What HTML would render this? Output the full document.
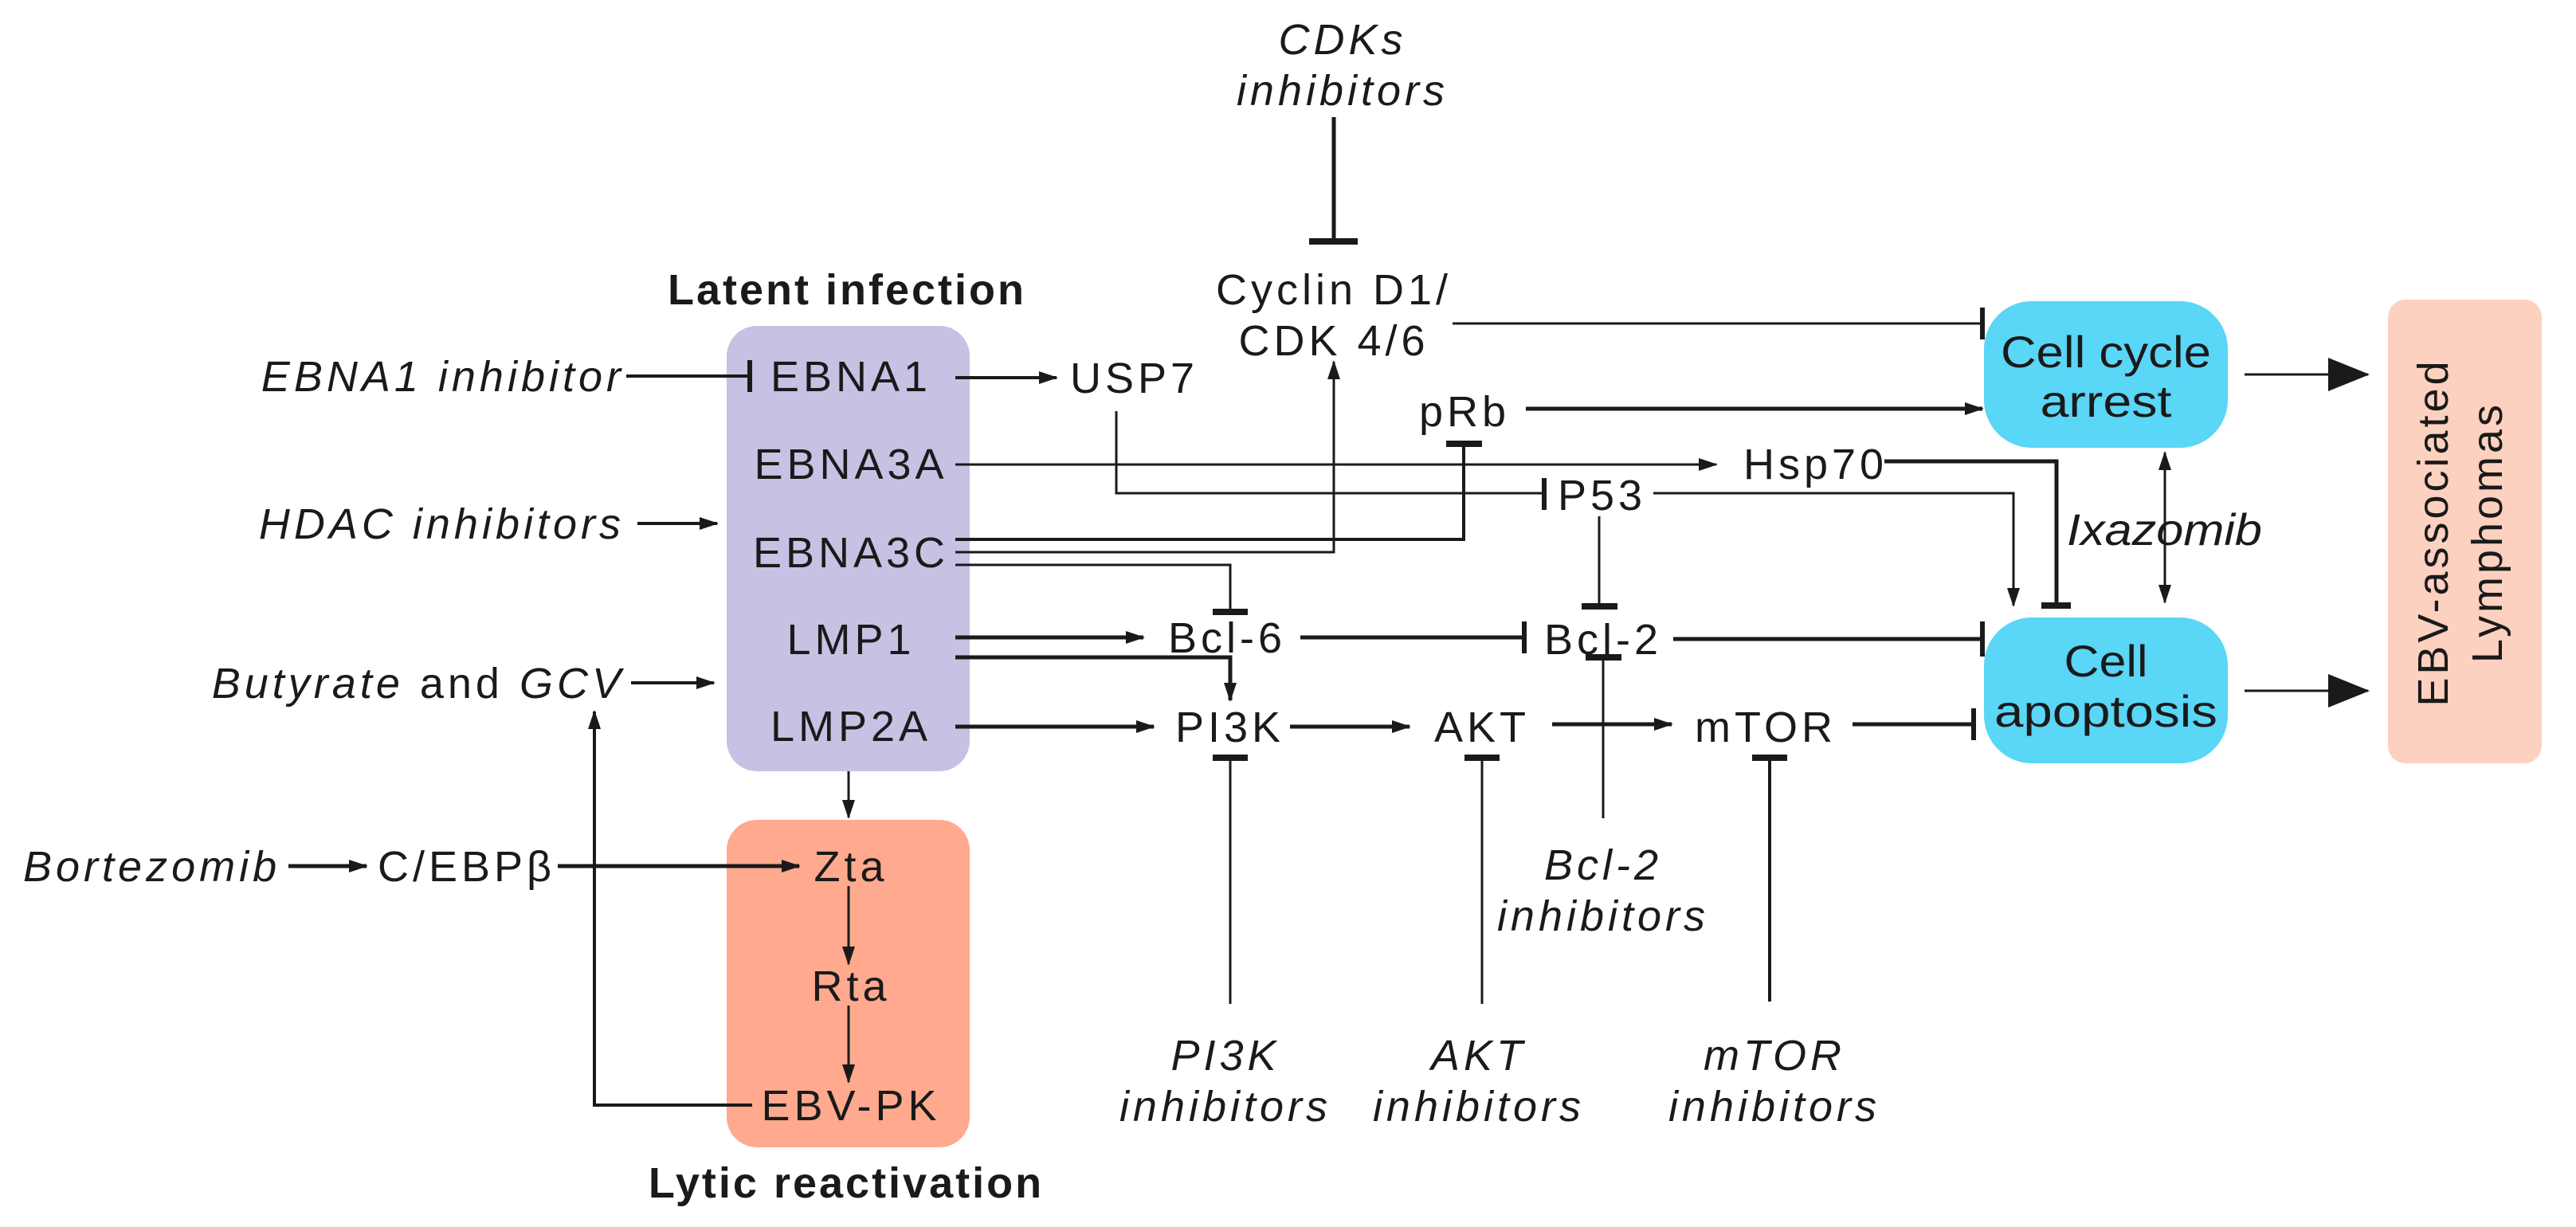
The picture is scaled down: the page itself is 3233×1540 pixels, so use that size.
<!DOCTYPE html>
<html><head><meta charset="utf-8"><style>
html,body{margin:0;padding:0;background:#fff;overflow:hidden;}
svg{display:block;}
text{font-family:"Liberation Sans",Arial,sans-serif;fill:#1a1a1a;}
.t{font-size:54px;letter-spacing:5px;}
.i{font-size:54px;font-style:italic;letter-spacing:5px;}
.b{font-size:54px;font-weight:bold;letter-spacing:3px;}
.n{font-size:56px;}
</style></head><body>
<svg width="3233" height="1540" viewBox="0 0 3233 1540" xmlns="http://www.w3.org/2000/svg">
<defs>
<marker id="a" markerUnits="userSpaceOnUse" markerWidth="24" markerHeight="16" refX="22" refY="8" orient="auto-start-reverse" viewBox="0 0 24 16"><path d="M0,0 L24,8 L0,16 z" fill="#1a1a1a"/></marker>
<marker id="A" markerUnits="userSpaceOnUse" markerWidth="52" markerHeight="42" refX="50" refY="21" orient="auto" viewBox="0 0 52 42"><path d="M0,0 L52,21 L0,42 z" fill="#1a1a1a"/></marker>
</defs>
<rect x="912" y="409" width="305" height="559" rx="38" fill="#C6C2E3"/>
<rect x="912" y="1029" width="305" height="411" rx="38" fill="#FFA98E"/>
<rect x="2490" y="378" width="306" height="184" rx="60" fill="#5AD6F6"/>
<rect x="2490" y="775" width="306" height="183" rx="60" fill="#5AD6F6"/>
<rect x="2997" y="376" width="193" height="582" rx="22" fill="#FDD1BF"/>

<text class="b" x="1063" y="382" text-anchor="middle">Latent infection</text>
<text class="b" x="1062" y="1503" text-anchor="middle" letter-spacing="4">Lytic reactivation</text>

<text class="t" x="1068" y="491" text-anchor="middle">EBNA1</text>
<text class="t" x="1068" y="601" text-anchor="middle">EBNA3A</text>
<text class="t" x="1068" y="712" text-anchor="middle">EBNA3C</text>
<text class="t" x="1068" y="821" text-anchor="middle">LMP1</text>
<text class="t" x="1068" y="930" text-anchor="middle">LMP2A</text>
<text class="t" x="1068" y="1106" text-anchor="middle">Zta</text>
<text class="t" x="1068" y="1256" text-anchor="middle">Rta</text>
<text class="t" x="1068" y="1406" text-anchor="middle">EBV-PK</text>

<text class="i" x="784" y="491" text-anchor="end">EBNA1 inhibitor</text>
<text class="i" x="784" y="676" text-anchor="end">HDAC inhibitors</text>
<text x="784" y="876" text-anchor="end" class="t"><tspan font-style="italic">Butyrate</tspan> and <tspan font-style="italic">GCV</tspan></text>
<text class="i" x="29" y="1106">Bortezomib</text>
<text class="t" x="474" y="1106">C/EBPβ</text>

<text class="i" x="1685" y="68" text-anchor="middle">CDKs</text>
<text class="i" x="1685" y="132" text-anchor="middle">inhibitors</text>
<text class="t" x="1674" y="382" text-anchor="middle">Cyclin D1/</text>
<text class="t" x="1674" y="446" text-anchor="middle">CDK 4/6</text>
<text class="t" x="1343" y="493">USP7</text>
<text class="t" x="1781" y="535">pRb</text>
<text class="t" x="2188" y="601">Hsp70</text>
<text class="t" x="1955" y="640">P53</text>
<text class="t" x="1466" y="819">Bcl-6</text>
<text class="t" x="1938" y="821">Bcl-2</text>
<text class="t" x="1475" y="931">PI3K</text>
<text class="t" x="1800" y="931">AKT</text>
<text class="t" x="2127" y="931">mTOR</text>
<text class="i" x="2012" y="1104" text-anchor="middle">Bcl-2</text>
<text class="i" x="2012" y="1168" text-anchor="middle">inhibitors</text>
<text class="i" x="1538" y="1343" text-anchor="middle">PI3K</text>
<text class="i" x="1538" y="1407" text-anchor="middle">inhibitors</text>
<text class="i" x="1856" y="1343" text-anchor="middle">AKT</text>
<text class="i" x="1856" y="1407" text-anchor="middle">inhibitors</text>
<text class="i" x="2227" y="1343" text-anchor="middle">mTOR</text>
<text class="i" x="2227" y="1407" text-anchor="middle">inhibitors</text>

<text class="n" x="2643" y="461" text-anchor="middle" textLength="264" lengthAdjust="spacingAndGlyphs">Cell cycle</text>
<text class="n" x="2643" y="523" text-anchor="middle" textLength="165" lengthAdjust="spacingAndGlyphs">arrest</text>
<text class="n" x="2643" y="849" text-anchor="middle" textLength="105" lengthAdjust="spacingAndGlyphs">Cell</text>
<text class="n" x="2643" y="912" text-anchor="middle" textLength="280" lengthAdjust="spacingAndGlyphs">apoptosis</text>
<text class="n" font-style="italic" x="2594" y="684" textLength="245" lengthAdjust="spacingAndGlyphs">Ixazomib</text>
<g transform="translate(3088,668) rotate(-90)">
<text x="0" y="-16" text-anchor="middle" font-size="54" letter-spacing="4">EBV-associated</text>
<text x="0" y="52" text-anchor="middle" font-size="54" letter-spacing="4">Lymphomas</text>
</g>

<g stroke="#1a1a1a" stroke-width="3" fill="none">
<line x1="786" y1="472" x2="941" y2="472" stroke-width="4"/><line x1="941" y1="452" x2="941" y2="492" stroke-width="6"/>
<line x1="800" y1="657" x2="900" y2="657" stroke-width="4" marker-end="url(#a)"/>
<line x1="792" y1="857" x2="896" y2="857" stroke-width="4" marker-end="url(#a)"/>
<line x1="362" y1="1087" x2="460" y2="1087" stroke-width="5" marker-end="url(#a)"/>
<line x1="700" y1="1087" x2="1003" y2="1087" stroke-width="5" marker-end="url(#a)"/>
<polyline points="944,1387 746,1387 746,893" stroke-width="4" marker-end="url(#a)"/>
<line x1="1065" y1="968" x2="1065" y2="1026" marker-end="url(#a)"/>
<line x1="1065" y1="1112" x2="1065" y2="1210" marker-end="url(#a)"/>
<line x1="1065" y1="1262" x2="1065" y2="1358" marker-end="url(#a)"/>
<line x1="1199" y1="474" x2="1326" y2="474" stroke-width="4" marker-end="url(#a)"/>
<line x1="1674" y1="147" x2="1674" y2="303" stroke-width="5"/><line x1="1643" y1="303" x2="1704" y2="303" stroke-width="8"/>
<line x1="1823" y1="406" x2="2488" y2="406"/><line x1="2488" y1="386" x2="2488" y2="426" stroke-width="6"/>
<line x1="1915" y1="513" x2="2488" y2="513" stroke-width="5" marker-end="url(#a)"/>
<line x1="1199" y1="583" x2="2154" y2="583" marker-end="url(#a)"/>
<polyline points="1401,516 1401,619 1938,619"/><line x1="1938" y1="600" x2="1938" y2="640" stroke-width="6"/>
<polyline points="2075,619 2527,619 2527,760" marker-end="url(#a)"/>
<polyline points="2365,579 2581,579 2581,760" stroke-width="5"/><line x1="2562" y1="760" x2="2599" y2="760" stroke-width="8"/>
<polyline points="1199,677 1837,677 1837,557" stroke-width="4"/><line x1="1815" y1="557" x2="1860" y2="557" stroke-width="8"/>
<polyline points="1199,693 1674,693 1674,454" marker-end="url(#a)"/>
<polyline points="1199,709 1544,709 1544,768"/><line x1="1522" y1="768" x2="1566" y2="768" stroke-width="8"/>
<line x1="2007" y1="648" x2="2007" y2="761"/><line x1="1985" y1="761" x2="2030" y2="761" stroke-width="8"/>
<line x1="1199" y1="800" x2="1435" y2="800" stroke-width="5" marker-end="url(#a)"/>
<polyline points="1199,825 1544,825 1544,879" stroke-width="5" marker-end="url(#a)"/>
<line x1="1632" y1="800" x2="1913" y2="800" stroke-width="5"/><line x1="1913" y1="780" x2="1913" y2="820" stroke-width="6"/>
<line x1="2100" y1="802" x2="2488" y2="802" stroke-width="5"/><line x1="2488" y1="780" x2="2488" y2="824" stroke-width="6"/>
<line x1="2012" y1="1027" x2="2012" y2="825"/><line x1="1990" y1="825" x2="2035" y2="825" stroke-width="8"/>
<line x1="1199" y1="912" x2="1448" y2="912" stroke-width="5" marker-end="url(#a)"/>
<line x1="1619" y1="912" x2="1769" y2="912" stroke-width="5" marker-end="url(#a)"/>
<line x1="1948" y1="909" x2="2098" y2="909" stroke-width="5" marker-end="url(#a)"/>
<line x1="2325" y1="909" x2="2477" y2="909" stroke-width="5"/><line x1="2477" y1="889" x2="2477" y2="929" stroke-width="6"/>
<line x1="1544" y1="951" x2="1544" y2="1260"/><line x1="1522" y1="951" x2="1566" y2="951" stroke-width="8"/>
<line x1="1860" y1="951" x2="1860" y2="1260"/><line x1="1838" y1="951" x2="1882" y2="951" stroke-width="8"/>
<line x1="2221" y1="951" x2="2221" y2="1257" stroke-width="4"/><line x1="2199" y1="951" x2="2243" y2="951" stroke-width="8"/>
<line x1="2717" y1="568" x2="2717" y2="756" marker-start="url(#a)" marker-end="url(#a)"/>
<line x1="2817" y1="470" x2="2972" y2="470" marker-end="url(#A)"/>
<line x1="2817" y1="867" x2="2972" y2="867" marker-end="url(#A)"/>
</g>
</svg>
</body></html>
